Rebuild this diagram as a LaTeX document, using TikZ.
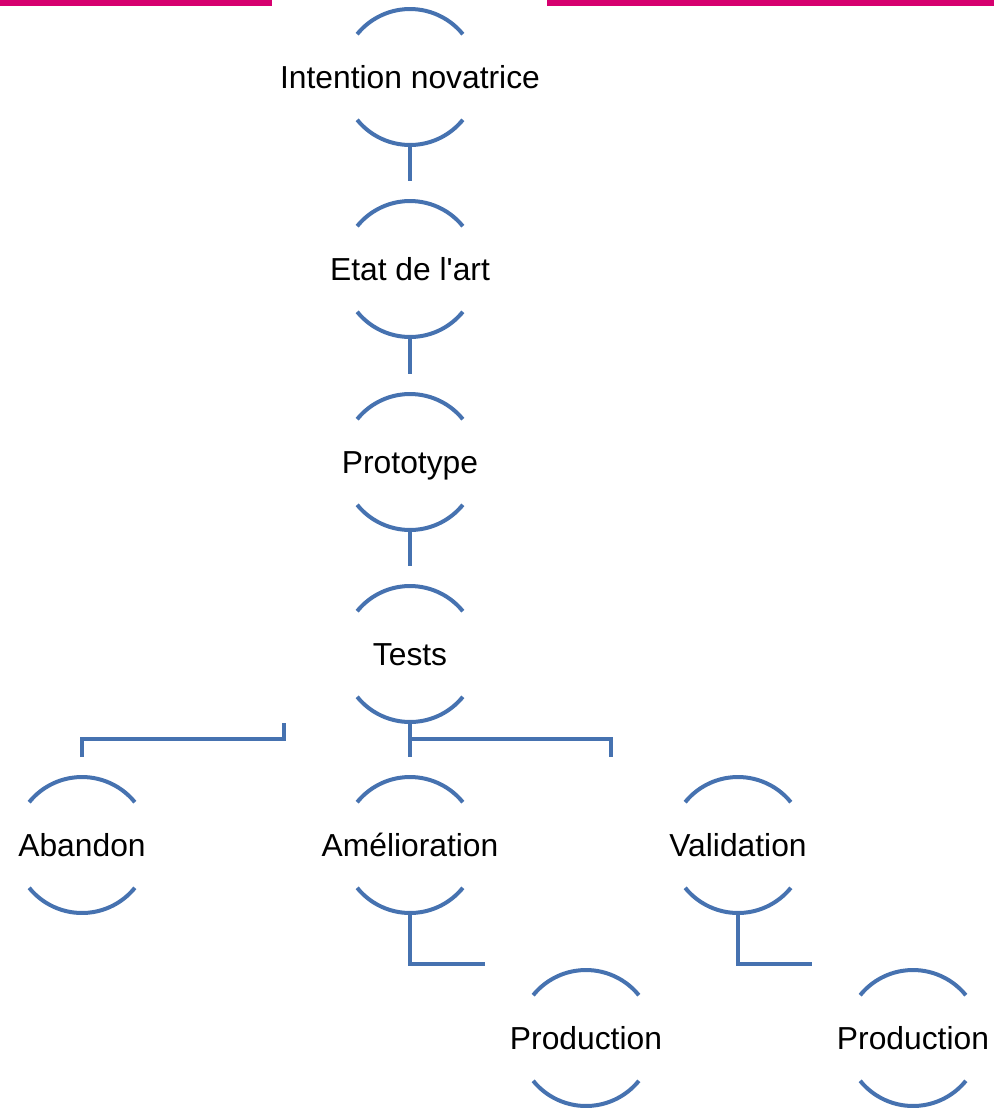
\documentclass[tikz,border=0pt]{standalone}
\usepackage{fontspec}
\setmainfont{Liberation Sans}[Ligatures=TeXOff]
\definecolor{arcblue}{RGB}{70,114,176}
\definecolor{barpink}{RGB}{214,0,111}
\tikzset{
	texte/.style={inner sep=0pt, font=\fontsize{15.9}{19}\selectfont, text height=11.4pt, text depth=0pt},
	etape/.style={circle, minimum size=68pt, inner sep=0pt, outer sep=0pt,
		label={[texte]center:#1}},
	arcline/.style={arcblue, line width=2pt},
	lien/.style={arcblue, line width=2pt, shorten >=10pt}
}
\begin{document}
\begin{tikzpicture}[x=0.5pt, y=0.5pt]

		\useasboundingbox (0,0) rectangle (994,-1109);

		\fill[barpink] (0,0) rectangle (272,-6);
		\fill[barpink] (547,0) rectangle (994,-6);

		\node[etape={Intention novatrice}] (intent) at (410,-77) {};
		\node[etape={Etat de l'art}] (etat) at (410,-269) {};
		\node[etape={Prototype}] (proto) at (410,-462) {};
		\node[etape={Tests}] (tests) at (410,-654) {};
		\node[etape={Abandon}] (abandon) at (82,-845) {};
		\node[etape={Amélioration}] (amelio) at (410,-845) {};
		\node[etape={Validation}] (valid) at (738,-845) {};
		\node[etape={Production}] (prodA) at (586,-1038) {};
		\node[etape={Production}] (prodB) at (913,-1038) {};

		\foreach \n in {intent,etat,proto,tests,abandon,amelio,valid,prodA,prodB} {
			\draw[arcline] (\n.39) arc (39:141:34pt); %haut
			\draw[arcline] (\n.219) arc (219:321:34pt); %bas
		}

		\coordinate (jtest) at (410,-739);
		\coordinate (vtest) at (611,-757);
		\coordinate (abm) at (284,-739);
		\coordinate (abh) at (284,-723);
		\coordinate (amp) at (485,-964);
		\coordinate (vap) at (812,-964);

		\draw[lien] (intent.south) -- (etat.north);
		\draw[lien] (etat.south) -- (proto.north);
		\draw[lien] (proto.south) -- (tests.north);
		\draw[lien] (tests.south) -- (amelio.north);
		\draw[arcline] (jtest) -| (vtest);
		\draw[arcline, shorten <=10pt] (abandon.north) |- (abm) -- (abh);
		\draw[arcline] (amelio.south) |- (amp);
		\draw[arcline] (valid.south) |- (vap);

	\end{tikzpicture}
\end{document}
